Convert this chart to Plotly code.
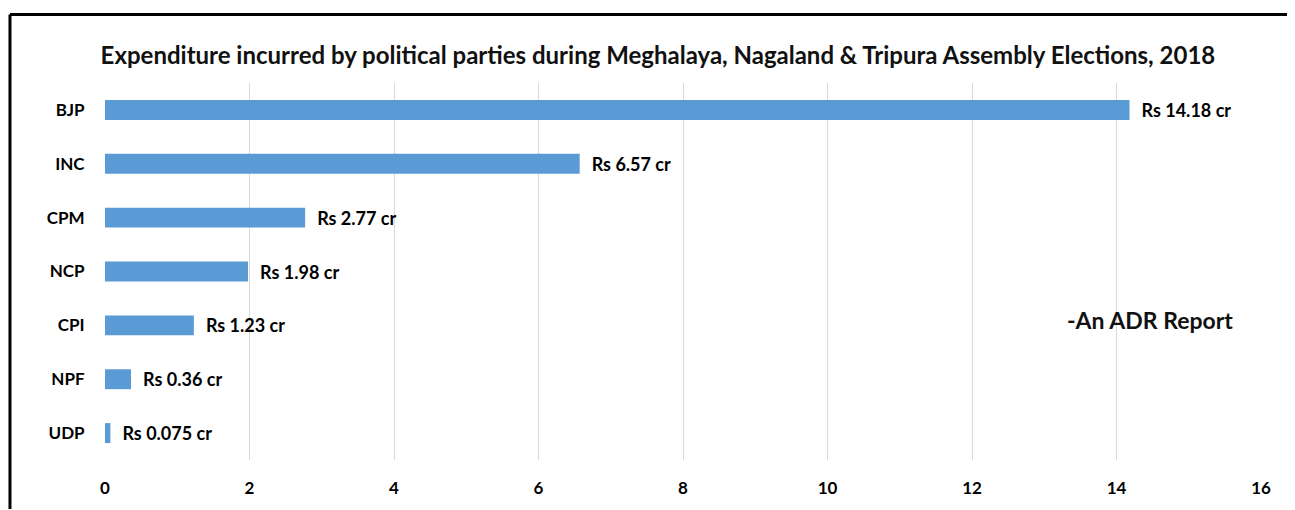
import plotly.graph_objects as go

parties = ["BJP", "INC", "CPM", "NCP", "CPI", "NPF", "UDP"]
expenditure = [14.18, 6.57, 2.77, 1.98, 1.23, 0.36, 0.075]
value_labels = ["Rs 14.18 cr", "Rs 6.57 cr", "Rs 2.77 cr", "Rs 1.98 cr", "Rs 1.23 cr", "Rs 0.36 cr", "Rs 0.075 cr"]
x_ticks = [0, 2, 4, 6, 8, 10, 12, 14, 16]

title = "Expenditure incurred by political parties during Meghalaya, Nagaland & Tripura Assembly Elections, 2018"
FONT = "Lato"

fig = go.Figure()
fig.add_trace(go.Bar(
    y=parties, x=expenditure, orientation="h",
    marker=dict(color="#5B9BD5", line=dict(width=0)),
    text=["\u2002" + t for t in value_labels],
    textposition="outside",
    constraintext="none",
    textfont=dict(family=FONT, size=18, color="#000000", weight="bold"),
    cliponaxis=False,
    hoverinfo="skip",
))

fig.update_layout(
    width=1287, height=502,
    margin=dict(l=97, r=34, t=75, b=47),
    paper_bgcolor="white", plot_bgcolor="white",
    bargap=0.63,
    showlegend=False,
    font=dict(family=FONT, color="#000000"),
    title=dict(text=title, x=0.505, xanchor="center", y=0.906, yanchor="middle",
               font=dict(family=FONT, size=24, color="#111111", weight="bold")),
    xaxis=dict(range=[0, 16], tickvals=x_ticks, showgrid=True, gridcolor="#d9d9d9", gridwidth=1,
               zeroline=False, showline=False, ticks="outside", ticklen=13, tickcolor="rgba(0,0,0,0)",
               tickfont=dict(family=FONT, size=17, color="#000000", weight="bold")),
    yaxis=dict(autorange="reversed", showgrid=False, zeroline=False, showline=False,
               ticks="outside", ticklen=16, tickcolor="rgba(0,0,0,0)",
               tickfont=dict(family=FONT, size=17, color="#000000", weight="bold")),
    annotations=[dict(text="-An ADR Report", xref="paper", yref="paper", x=0.9775, y=0.371,
                      xanchor="right", yanchor="middle", showarrow=False,
                      font=dict(family=FONT, size=23, color="#111111", weight="bold"))],
    shapes=[
        dict(type="line", xref="paper", yref="paper", x0=-0.0822, x1=1.05, y0=1.1816, y1=1.1816,
             line=dict(color="#000000", width=3)),
        dict(type="line", xref="paper", yref="paper", x0=-0.0822, x1=-0.0822, y0=1.1816, y1=-0.13,
             line=dict(color="#000000", width=3)),
    ],
)

fig.write_html("out.html")
